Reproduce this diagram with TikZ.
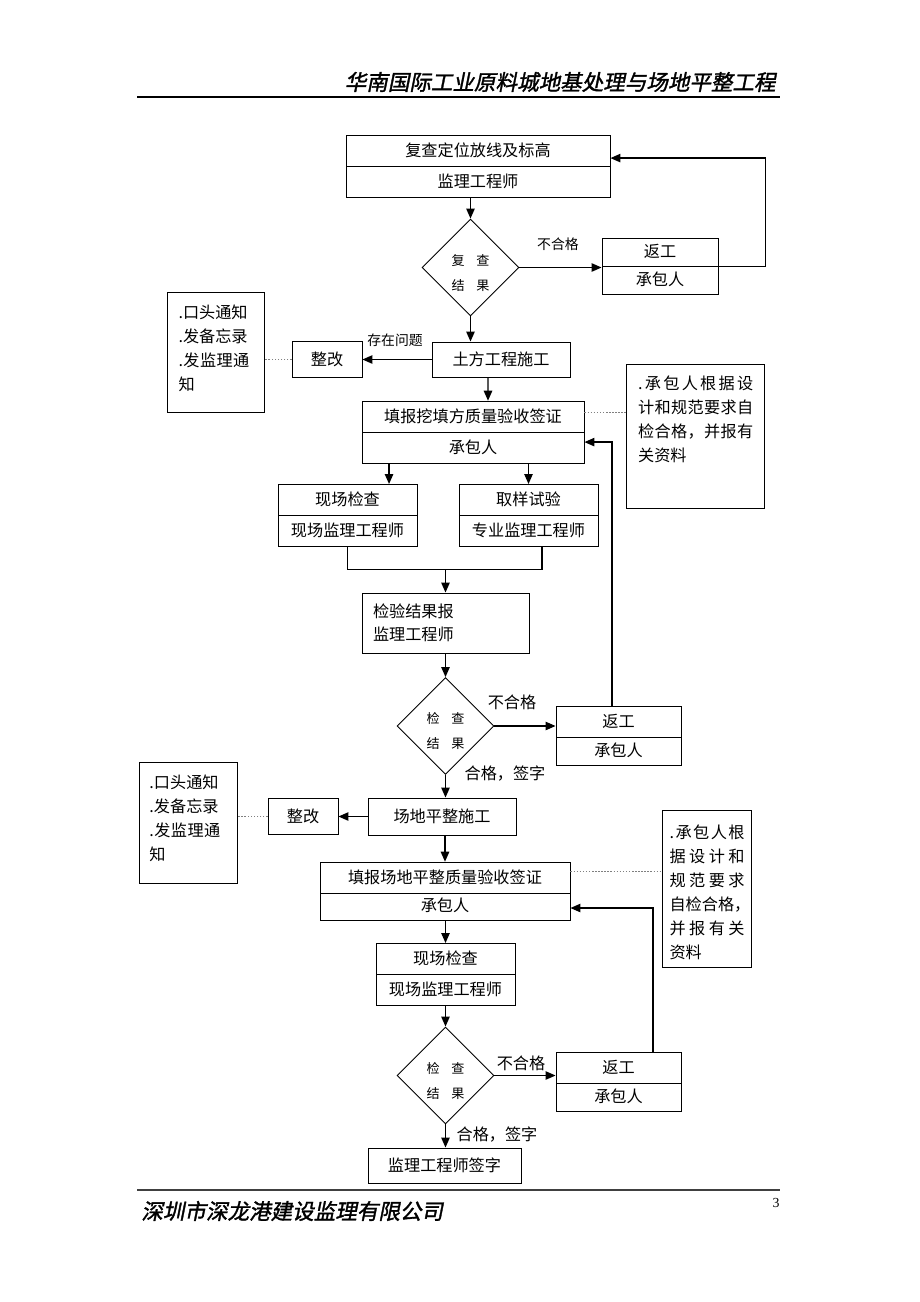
\documentclass[tikz,border=0pt]{standalone}
\usepackage{fontspec}
\setmainfont{Noto Sans CJK SC}
\newfontfamily\hdfont[FakeSlant=0.2,FakeBold=1.5]{Noto Sans CJK SC}
\newfontfamily\numfont{Liberation Serif}
\usetikzlibrary{arrows.meta,shapes.geometric,shapes.multipart,positioning}
\XeTeXlinebreaklocale "zh"
\XeTeXlinebreakskip=0pt plus 4pt
\newcommand\partA{\rule[-6.2pt]{0pt}{19.5pt}}
\newcommand\partB{\rule[-5.6pt]{0pt}{17.5pt}}
% spread the characters of a line over a given width
\makeatletter
\newcommand\spread[2]{\makebox[#1][s]{\spr@first#2\relax}}
\def\spr@first#1{#1\spr@next}
\def\spr@next#1{\ifx\relax#1\else\hfil#1\expandafter\spr@next\fi}
\makeatother

\tikzset{
  box/.style={draw=black, line width=0.6pt, inner sep=0pt, font=\fontsize{10.5pt}{12pt}\selectfont},
  twobox/.style={box, rectangle split, rectangle split parts=2, anchor=north, minimum width=#1*0.65pt},
  sbox/.style 2 args={box, minimum width=#1*0.65pt, minimum height=#2*0.65pt},
  diam/.style={draw=black, line width=0.6pt, diamond, inner sep=0pt, minimum width=97*0.65pt, minimum height=97*0.65pt, align=center, text height=30pt, font=\fontsize{8.5pt}{16pt}\selectfont},
  note/.style={draw=black, line width=0.6pt, anchor=north west, inner ysep=0pt, align=left, font=\fontsize{10.5pt}{15.6pt}\selectfont},
  lbl/.style={inner sep=0pt, font=\fontsize{10.5pt}{12pt}\selectfont},
  small/.style={font=\fontsize{9pt}{10pt}\selectfont},
  link/.style={line width=0.8pt},
  arr/.style={link, -{Triangle[length=6.5pt,width=5.5pt]}},
  dots/.style={line width=0.5pt, gray, dash pattern=on 1pt off 1pt}
}

\begin{document}
\begin{tikzpicture}[x=0.65pt, y=-0.65pt]
\fill[white] (0,0) rectangle (920,1302);
\useasboundingbox (0,0) rectangle (920,1302);

% header and footer
\node[anchor=east, font=\hdfont\fontsize{14pt}{16pt}\selectfont] (title) at (781,82) {华南国际工业原料城地基处理与场地平整工程};
\draw[line width=1pt] (137,97) -- (780,97);
\draw[line width=1.2pt, black!75] (137,1190) -- (780,1190);
\node[anchor=west, font=\hdfont\fontsize{14pt}{16pt}\selectfont] (firm) at (136,1211) {深圳市深龙港建设监理有限公司};
\node[font=\numfont\fontsize{9pt}{10pt}\selectfont] (pg) at (776,1203) {3};

% setting out check
\node[twobox=264] (rev) at (478,135) {\partA 复查定位放线及标高\nodepart{two}\partA 监理工程师};
\node[diam] (chk1) at (470.5,267.5) {复\hspace{0.9em}查\\结\hspace{0.9em}果};
\node[twobox=116] (redo1) at (660,238) {\partB 返工\nodepart{two}\partB 承包人};
\node[sbox={138}{35}] (earth) at (501,359.5) {土方工程施工};
\node[sbox={70}{36}] (fix1) at (327,359.5) {整改};
\node[note, text width=48.6pt, inner xsep=7.2pt, text height=16.9pt, text depth=61pt] (memo1) at (167,292) {.口头通知\\.发备忘录\\\spread{46pt}{.发监理通}\\知};
\node[lbl, small] (bad1) at (558,244) {不合格};
\node[lbl, small] (prob) at (395,340) {存在问题};

\draw[arr] (chk1.north |- rev.south) -- (chk1.north);
\draw[arr] (chk1.east) -- (chk1.east -| redo1.west);
\draw[arr] (redo1.east) -- ++(47,0) |- ([yshift=5.4pt]rev.east);
\draw[arr] (chk1.south) -- (chk1.south |- earth.north);
\draw[arr] (earth.west) -- (fix1.east);
\draw[dots] (fix1.west) -- (fix1.west -| memo1.east);

% earthwork
\node[twobox=222] (form1) at (473,400.7) {\partA 填报挖填方质量验收签证\nodepart{two}\partA 承包人};
\node[note, text width=74.8pt, inner xsep=7.6pt, text height=16.3pt, text depth=77pt] (memo2) at (626,364) {\spread{74.8pt}{.承包人根据设}\\\spread{74.8pt}{计和规范要求自}\\\spread{74.8pt}{检合格，并报有}\\关资料};
\coordinate (f1) at ([yshift=-7.3pt]form1.north east);
\draw[dots] (f1) -- (f1 -| memo2.west);
\draw[arr] ([xshift=-8.45pt]earth.south) -- ([xshift=9.75pt]form1.north);

\node[twobox=139] (site1) at (347.5,484) {\partA 现场检查\nodepart{two}\partA 现场监理工程师};
\node[twobox=139] (lab) at (528.5,484) {\partA 取样试验\nodepart{two}\partA 专业监理工程师};
\coordinate (h1) at ([xshift=27pt]site1.north);
\coordinate (i1) at ([xshift=8.8pt]lab.south);
\draw[arr] (h1 |- form1.south) -- (h1);
\draw[arr] (lab.north |- form1.south) -- (lab.north);

\node[sbox={167}{60}, text width=94.25pt, inner xsep=7.15pt, align=left, font=\fontsize{10.5pt}{15pt}\selectfont] (rep) at (445.5,623) {检验结果报\\监理工程师};
\draw[link] (site1.south) -- ++(0,23) coordinate (hm) -| (i1);
\draw[arr] (hm -| rep.north) -- (rep.north);

\node[diam] (chk2) at (445.5,726) {检\hspace{0.9em}查\\结\hspace{0.9em}果};
\node[twobox=125] (redo2) at (618.5,706) {\partA 返工\nodepart{two}\partB 承包人};
\node[lbl] (bad2) at (512,702) {不合格};
\node[lbl] (ok2) at (505,774) {合格，签字};
\coordinate (k1) at ([xshift=-4.2pt]redo2.north);
\draw[arr] (rep.south) -- (chk2.north);
\draw[arr] (chk2.east) -- (chk2.east -| redo2.west);
\draw[arr] (k1) |- ([yshift=-6.5pt]form1.east);

% site levelling
\node[sbox={148}{37}] (level) at (442,816.5) {场地平整施工};
\node[sbox={70}{36}] (fix2) at (303,816.5) {整改};
\node[note, text width=50.7pt, inner xsep=6.5pt, text height=16.9pt, text depth=61.8pt] (memo3) at (139,762) {.口头通知\\.发备忘录\\\spread{46pt}{.发监理通}\\知};
\draw[arr] (chk2.south) -- (chk2.south |- level.north);
\draw[arr] (level.west) -- (fix2.east);
\draw[dots] (fix2.west) -- (fix2.west -| memo3.east);

\node[twobox=250] (form2) at (445,861.7) {\partA 填报场地平整质量验收签证\nodepart{two}\partB 承包人};
\node[note, text width=48.75pt, inner xsep=4.6pt, text height=18.2pt, text depth=84pt] (memo4) at (662,810) {\spread{48.75pt}{.承包人根}\\\spread{48.75pt}{据设计和}\\\spread{48.75pt}{规范要求}\\\makebox[48.75pt][l]{自检合格，}\\\spread{48.75pt}{并报有关}\\资料};
\coordinate (o1) at ([yshift=-6pt]form2.north east);
\draw[dots] (o1) -- (o1 -| memo4.west);
\draw[arr] (form2.north |- level.south) -- (form2.north);

\node[twobox=139] (site2) at (445.5,943) {\partA 现场检查\nodepart{two}\partA 现场监理工程师};
\draw[arr] (site2.north |- form2.south) -- (site2.north);

\node[diam] (chk3) at (445.5,1075.5) {检\hspace{0.9em}查\\结\hspace{0.9em}果};
\node[twobox=125] (redo3) at (618.5,1052) {\partA 返工\nodepart{two}\partB 承包人};
\node[lbl] (bad3) at (521,1063) {不合格};
\node[lbl] (ok3) at (497,1135) {合格，签字};
\coordinate (r1) at ([xshift=22.4pt]redo3.north);
\draw[arr] (site2.south) -- (chk3.north);
\draw[arr] (chk3.east) -- (chk3.east -| redo3.west);
\draw[arr] (r1) |- ([yshift=-10.7pt]form2.east);

\node[sbox={153}{35}] (sign) at (444.5,1165.5) {监理工程师签字};
\draw[arr] (chk3.south) -- (chk3.south |- sign.north);
\end{tikzpicture}
\end{document}
